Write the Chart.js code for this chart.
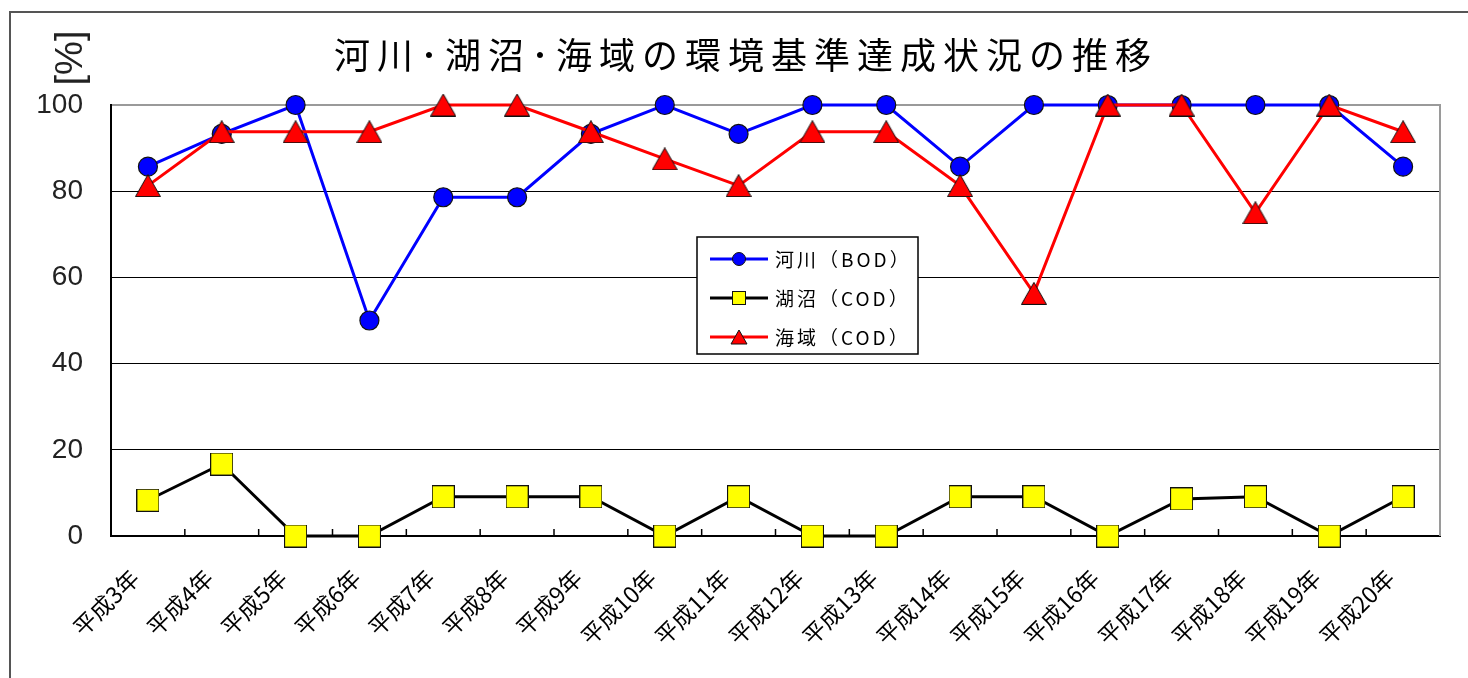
<!DOCTYPE html>
<html><head><meta charset="utf-8">
<script src="https://cdn.jsdelivr.net/npm/chart.js@4.4.1/dist/chart.umd.min.js"></script>
<style>html,body{margin:0;padding:0;background:#fff;}canvas{display:block;}</style>
</head><body>
<canvas id="c" width="1468" height="678"></canvas>
<script>
const categories = ['平成3年','平成4年','平成5年','平成6年','平成7年','平成8年','平成9年','平成10年','平成11年','平成12年','平成13年','平成14年','平成15年','平成16年','平成17年','平成18年','平成19年','平成20年'];
const riverBOD = [85.7,93.3,100,50,78.6,78.6,93.3,100,93.3,100,100,85.7,100,100,100,100,100,85.7];
const lakeCOD  = [8.3,16.7,0,0,9.1,9.1,9.1,0,9.1,0,0,9.1,9.1,0,8.6,9.1,0,9.1];
const seaCOD   = [81.3,93.8,93.8,93.8,100,100,93.8,87.5,81.3,93.8,93.8,81.3,56.3,100,100,75,100,93.8];
const seriesLabels = ['河川（BOD）','湖沼（COD）','海域（COD）'];
const yMin = 0, yMax = 100, yStep = 20;
const titleText = '河川･湖沼･海域の環境基準達成状況の推移';
const yAxisLabel = '[%]';

function makeMarker(kind, w, h){
  const c = document.createElement('canvas');
  c.width = w; c.height = h;
  const g = c.getContext('2d');
  g.lineWidth = 1;
  g.strokeStyle = '#111';
  if (kind === 'tri'){
    g.fillStyle = '#ff0000';
    g.beginPath(); g.moveTo(w/2, 0.5); g.lineTo(w-0.5, h-0.5); g.lineTo(0.5, h-0.5); g.closePath();
    g.fill(); g.stroke();
  } else {
    g.fillStyle = '#ffff00';
    g.fillRect(0.5,0.5,w-1,h-1); g.strokeRect(0.5,0.5,w-1,h-1);
  }
  return c;
}
const triMarker = makeMarker('tri', 26, 23);
const sqMarker = makeMarker('sq', 23, 23);

const decor = {
  id: 'decor',
  beforeDatasetsDraw(chart){
    const {ctx, chartArea: a, scales: {x}} = chart;
    ctx.save();
    ctx.strokeStyle = '#9a9a9a'; ctx.lineWidth = 2;
    ctx.beginPath(); ctx.moveTo(a.right, a.top - 1); ctx.lineTo(a.right, a.bottom); ctx.stroke();
    ctx.strokeStyle = '#000'; ctx.lineWidth = 1.5;
    const step = x.getPixelForValue(1) - x.getPixelForValue(0);
    ctx.beginPath();
    for (let i = 1; i < categories.length; i++){
      const px = x.getPixelForValue(i) - step/2;
      ctx.moveTo(px, a.bottom); ctx.lineTo(px, a.bottom - 7);
    }
    ctx.stroke();
    ctx.restore();
  },
  afterDraw(chart){
    const {ctx} = chart;
    ctx.save();
    ctx.strokeStyle = '#555'; ctx.lineWidth = 2;
    ctx.strokeRect(10, 12, 1500, 720);
    ctx.fillStyle = '#000';
    ctx.font = '36px "Noto Sans CJK JP"';
    ctx.letterSpacing = '7px';
    ctx.textAlign = 'center'; ctx.textBaseline = 'middle';
    ctx.fillText(titleText, 746, 55);
    ctx.letterSpacing = '0px';
    ctx.save();
    ctx.translate(72, 58); ctx.rotate(-Math.PI/2);
    ctx.font = '38px "Liberation Sans", Arial';
    ctx.fillStyle = '#222';
    ctx.fillText(yAxisLabel, 0, 0);
    ctx.restore();
    const L = {x: 697, y: 237, w: 221, h: 117};
    ctx.fillStyle = '#fff'; ctx.fillRect(L.x, L.y, L.w, L.h);
    ctx.strokeStyle = '#000'; ctx.lineWidth = 1.5; ctx.strokeRect(L.x, L.y, L.w, L.h);
    const rows = [259, 298, 337];
    chart.data.datasets.forEach((ds, i) => {
      const y = rows[i];
      ctx.strokeStyle = ds.borderColor; ctx.lineWidth = 3;
      ctx.beginPath(); ctx.moveTo(710, y); ctx.lineTo(768, y); ctx.stroke();
      ctx.lineWidth = 1; ctx.strokeStyle = '#111';
      if (ds.legendMarker === 'circle'){
        ctx.fillStyle = '#0000ff';
        ctx.beginPath(); ctx.arc(739, y, 6.5, 0, Math.PI*2); ctx.fill(); ctx.stroke();
      } else if (ds.legendMarker === 'rect'){
        ctx.fillStyle = '#ffff00';
        ctx.fillRect(732.5, y-6.5, 13, 13); ctx.strokeRect(732.5, y-6.5, 13, 13);
      } else {
        ctx.fillStyle = '#ff0000';
        ctx.beginPath(); ctx.moveTo(739, y-7); ctx.lineTo(747, y+7); ctx.lineTo(731, y+7); ctx.closePath(); ctx.fill(); ctx.stroke();
      }
      ctx.fillStyle = '#000';
      ctx.font = '19px "Noto Sans CJK JP"';
      ctx.letterSpacing = '3px';
      ctx.textAlign = 'left'; ctx.textBaseline = 'middle';
      ctx.fillText(ds.label, 775, y + 1);
      ctx.letterSpacing = '0px';
    });
    ctx.restore();
  }
};

new Chart(document.getElementById('c'), {
  type: 'line',
  data: {
    labels: categories,
    datasets: [
      { label: seriesLabels[0], data: riverBOD, borderColor: '#0000ff', backgroundColor: '#0000ff', borderWidth: 3,
        pointStyle: 'circle', pointRadius: 9.5, pointBorderColor: '#111', pointBorderWidth: 1.2, pointBackgroundColor: '#0000ff',
        tension: 0, clip: false, order: 3, legendMarker: 'circle' },
      { label: seriesLabels[1], data: lakeCOD, borderColor: '#000000', backgroundColor: '#ffff00', borderWidth: 3,
        pointStyle: sqMarker, pointRadius: 11, tension: 0, clip: false, order: 2, legendMarker: 'rect' },
      { label: seriesLabels[2], data: seaCOD, borderColor: '#ff0000', backgroundColor: '#ff0000', borderWidth: 3,
        pointStyle: triMarker, pointRadius: 12, tension: 0, clip: false, order: 1, legendMarker: 'tri' }
    ]
  },
  options: {
    responsive: false, animation: false, devicePixelRatio: 1,
    layout: {padding: {left: 0, top: 105, right: 28, bottom: 0}},
    plugins: {legend: {display: false}, title: {display: false}, tooltip: {enabled: false}},
    events: [],
    scales: {
      x: {
        type: 'category', offset: true,
        grid: {display: false, drawTicks: false},
        border: {display: true, color: '#000', width: 2},
        ticks: {autoSkip: false, minRotation: 45, maxRotation: 45, padding: 28, labelOffset: -13, color: '#000',
                font: {family: '"Noto Sans CJK JP"', size: 23}},
        afterFit(s){ s.height = 142; }
      },
      y: {
        min: yMin, max: yMax,
        ticks: {stepSize: yStep, padding: 28, color: '#222', font: {family: '"Liberation Sans", Arial', size: 28}},
        grid: {color: c => (c.tick && c.tick.value === yMax) ? '#9a9a9a' : '#000', lineWidth: c => (c.tick && c.tick.value === yMax) ? 2 : 1, drawTicks: false},
        border: {display: true, color: '#000', width: 2},
        afterFit(s){ s.width = 111; }
      }
    }
  },
  plugins: [decor]
});
</script>
</body></html>
